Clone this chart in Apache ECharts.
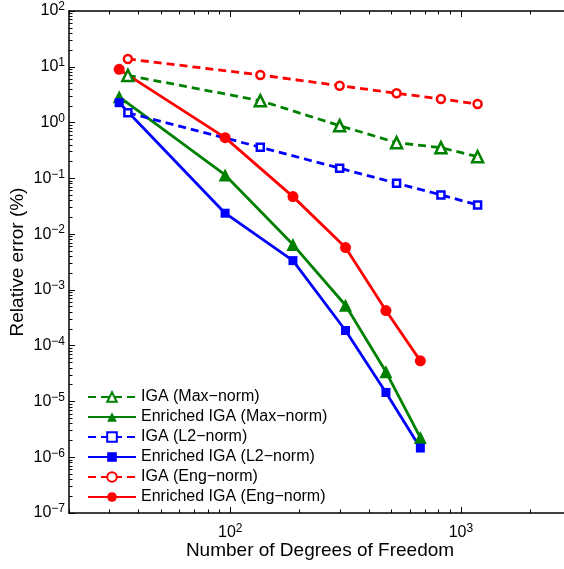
<!DOCTYPE html>
<html>
<head>
<meta charset="utf-8">
<script src="https://cdn.jsdelivr.net/npm/echarts@6/dist/echarts.min.js"></script>
<style>
html,body{margin:0;padding:0;background:#fff;}
#chart{width:564px;height:569px;}
</style>
</head>
<body>
<div id="chart"></div>
<script>
// ---- data ----
const seriesNames = [
  'IGA (Max\u2212norm)', 'Enriched IGA (Max\u2212norm)',
  'IGA (L2\u2212norm)', 'Enriched IGA (L2\u2212norm)',
  'IGA (Eng\u2212norm)', 'Enriched IGA (Eng\u2212norm)'
];
const dofIGA = [36, 135, 298, 526, 819, 1181];
const dofEnriched = [33, 95, 187, 316, 473, 667];

const igaMax = [7.0, 2.47, 0.88, 0.436, 0.355, 0.245];
const enrichedMax = [2.9, 0.115, 0.0065, 5.3e-4, 3.4e-5, 2.25e-6];
const igaL2 = [1.5, 0.361, 0.152, 0.0817, 0.0504, 0.0334];
const enrichedL2 = [2.27, 0.0237, 0.00335, 1.87e-4, 1.45e-5, 1.46e-6];
const igaEng = [13.8, 7.13, 4.58, 3.35, 2.65, 2.15];
const enrichedEng = [9.0, 0.536, 0.047, 0.00573, 4.26e-4, 5.34e-5];

// ---- axis ticks ----
const xMin = 20, xMax = 3000, yMin = 1e-7, yMax = 100;
const xMajorTicks = [100, 1000];
const xMinorTicks = [20, 30, 40, 50, 60, 70, 80, 90, 200, 300, 400, 500, 600, 700, 800, 900, 2000];
const yMajorTicks = [1e-7, 1e-6, 1e-5, 1e-4, 1e-3, 1e-2, 1e-1, 1, 10, 100];
const yMinorTicks = [];
for (let e = -7; e <= 1; e++) {
  for (let k = 2; k <= 9; k++) yMinorTicks.push(parseFloat((k * Math.pow(10, e)).toPrecision(3)));
}

const FONT = "'Liberation Sans', Arial, Helvetica, sans-serif";
const GREEN = '#008000', BLUE = '#0000ff', RED = '#ff0000';

function powLabel(v) {
  const e = Math.round(Math.log10(v));
  const s = e < 0 ? '\u2212' + (-e) : String(e);
  return '{b|10}{e|' + s + '}';
}
const rich = {
  b: {fontSize: 16, fontFamily: FONT, color: '#000', lineHeight: 20},
  e: {fontSize: 12, fontFamily: FONT, color: '#000', lineHeight: 12, verticalAlign: 'top'}
};

function xAxisCfg(pos, major, showLine, showLabel) {
  return {
    type: 'log', logBase: 10, min: xMin, max: xMax, position: pos, gridIndex: 0,
    axisLine: {show: showLine, lineStyle: {color: '#000', width: 1.5}},
    axisTick: {show: true, inside: true, length: major ? 6 : 3.5,
      lineStyle: {color: '#000', width: 1},
      customValues: major ? xMajorTicks : xMinorTicks},
    axisLabel: showLabel ? {show: true, customValues: xMajorTicks, formatter: powLabel, rich: rich, margin: 10}
                         : {show: false},
    splitLine: {show: false}, minorTick: {show: false}, minorSplitLine: {show: false}
  };
}
function yAxisCfg(pos, major, showLine, showLabel) {
  return {
    type: 'log', logBase: 10, min: yMin, max: yMax, position: pos, gridIndex: 0,
    axisLine: {show: showLine, lineStyle: {color: '#000', width: 1.5}},
    axisTick: {show: true, inside: true, length: major ? 6 : 3.5,
      lineStyle: {color: '#000', width: 1},
      customValues: major ? yMajorTicks : yMinorTicks},
    axisLabel: showLabel ? {show: true, customValues: yMajorTicks, formatter: powLabel, rich: rich, margin: 4}
                         : {show: false},
    splitLine: {show: false}, minorTick: {show: false}, minorSplitLine: {show: false}
  };
}

const xAxes = [
  xAxisCfg('bottom', true, true, true),
  xAxisCfg('bottom', false, false, false),
  xAxisCfg('top', true, true, false),
  xAxisCfg('top', false, false, false)
];
Object.assign(xAxes[0], {
  name: 'Number of Degrees of Freedom', nameLocation: 'middle', nameGap: 28, nameMoveOverlap: false,
  nameTextStyle: {fontSize: 19, fontFamily: FONT, color: '#000'}
});
const yAxes = [
  yAxisCfg('left', true, true, true),
  yAxisCfg('left', false, false, false)
];
Object.assign(yAxes[0], {
  name: 'Relative error (%)', nameLocation: 'middle', nameGap: 42, nameRotate: 90, nameMoveOverlap: false,
  nameTextStyle: {fontSize: 19, fontFamily: FONT, color: '#000'}
});

function pairs(xs, ys) { return xs.map((x, i) => [x, ys[i]]); }

function mk(name, xs, ys, color, dashed, symbol, open, size) {
  return {
    name: name, type: 'line', xAxisIndex: 0, yAxisIndex: 0,
    data: pairs(xs, ys),
    symbol: symbol, symbolSize: size, showSymbol: true,
    lineStyle: {color: color, width: 2.8, type: dashed ? [8, 5] : 'solid'},
    itemStyle: open ? {color: '#fff', borderColor: color, borderWidth: 2.5}
                    : {color: color, borderColor: color, borderWidth: 0},
    emphasis: {disabled: true},
    animation: false
  };
}

const series = [
  mk(seriesNames[0], dofIGA, igaMax, GREEN, true, 'triangle', true, 11),
  mk(seriesNames[1], dofEnriched, enrichedMax, GREEN, false, 'triangle', false, 13),
  mk(seriesNames[2], dofIGA, igaL2, BLUE, true, 'rect', true, 7),
  mk(seriesNames[3], dofEnriched, enrichedL2, BLUE, false, 'rect', false, 9),
  mk(seriesNames[4], dofIGA, igaEng, RED, true, 'circle', true, 8),
  mk(seriesNames[5], dofEnriched, enrichedEng, RED, false, 'circle', false, 11)
];

const chart = echarts.init(document.getElementById('chart'), null, {renderer: 'canvas'});
chart.setOption({
  animation: false,
  backgroundColor: '#fff',
  textStyle: {fontFamily: FONT},
  grid: {left: 69, top: 11, right: -7, bottom: 56, containLabel: false, outerBoundsMode: 'none'},
  xAxis: xAxes,
  yAxis: yAxes,
  legend: {
    show: true, orient: 'vertical', left: 82, top: 384,
    itemWidth: 48, itemHeight: 12, itemGap: 4,
    textStyle: {fontSize: 16, fontFamily: FONT, color: '#000'},
    data: seriesNames,
    selectedMode: false
  },
  series: series
});
</script>
</body>
</html>
